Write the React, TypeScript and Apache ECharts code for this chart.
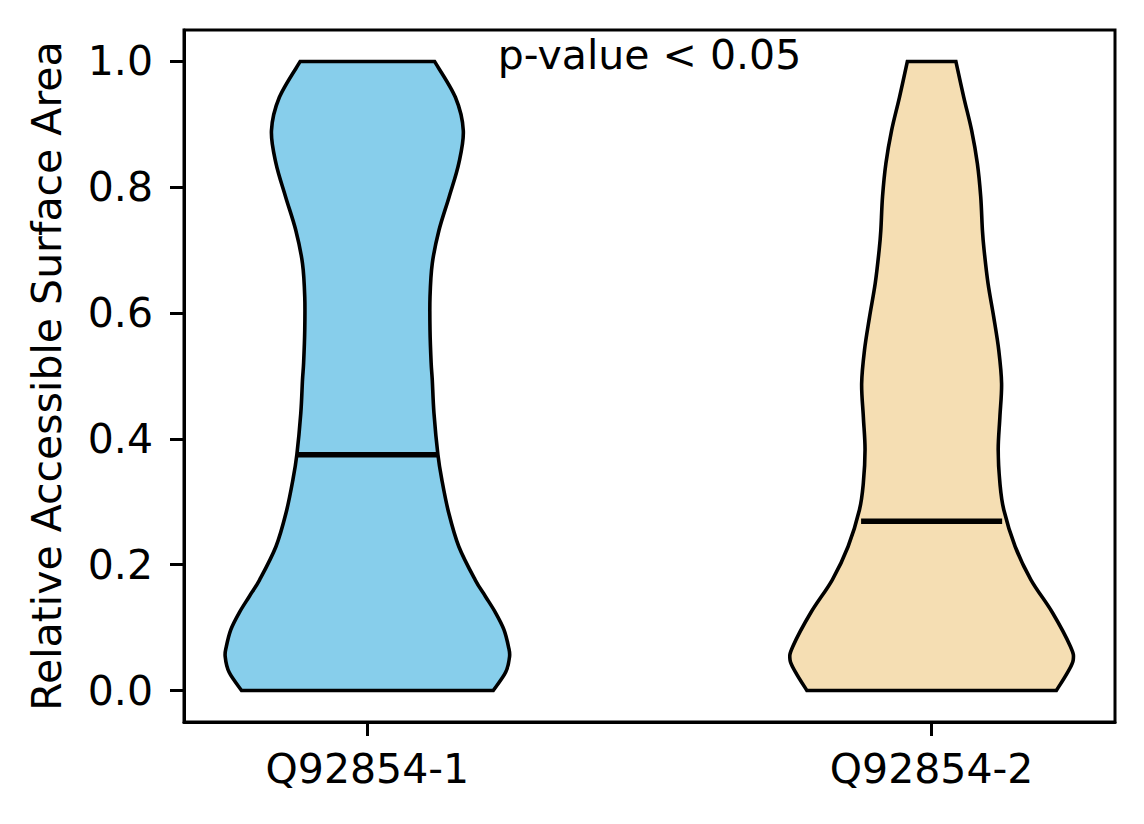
import { useEffect, useRef } from "react";
import * as echarts from "echarts";

// violin categories and positions on the x axis
const categories = ["Q92854-1", "Q92854-2"];
const positions = [1, 2];
const fillColors = ["#87CEEB", "#F5DEB3"];
const medians = [0.375, 0.269];

// density outline (y level -> half width in x units)
const levelsA = [0, 0.029, 0.054, 0.07, 0.097, 0.124, 0.15, 0.176, 0.229, 0.283, 0.335, 0.375, 0.441, 0.494, 0.521, 0.573, 0.626, 0.679, 0.732, 0.785, 0.838, 0.89, 0.943, 1.0];
const halfWidthsA = [0.223, 0.245, 0.252, 0.25, 0.242, 0.227, 0.209, 0.191, 0.162, 0.144, 0.132, 0.125, 0.118, 0.115, 0.113, 0.111, 0.111, 0.115, 0.127, 0.145, 0.162, 0.17, 0.156, 0.119];
const levelsB = [0, 0.029, 0.049, 0.07, 0.124, 0.176, 0.229, 0.287, 0.33, 0.383, 0.435, 0.488, 0.541, 0.594, 0.647, 0.7, 0.732, 0.785, 0.838, 0.89, 0.943, 1.0];
const halfWidthsB = [0.221, 0.241, 0.251, 0.246, 0.214, 0.176, 0.148, 0.128, 0.121, 0.118, 0.121, 0.124, 0.119, 0.11, 0.1, 0.093, 0.09, 0.087, 0.081, 0.071, 0.057, 0.043];

const yTicks = [0, 0.2, 0.4, 0.6, 0.8, 1.0];
const annotation = "p-value < 0.05";

const FONT = "DejaVu Sans";
const FS = 41;

// smooth sides (catmull-rom), straight top and bottom edges
const segment = (ctx, p, from, to) => {
  for (let i = from; i < to; i++) {
    const p0 = p[Math.max(i - 1, from)];
    const p1 = p[i];
    const p2 = p[i + 1];
    const p3 = p[Math.min(i + 2, to)];
    ctx.bezierCurveTo(
      p1[0] + (p2[0] - p0[0]) / 6,
      p1[1] + (p2[1] - p0[1]) / 6,
      p2[0] - (p3[0] - p1[0]) / 6,
      p2[1] - (p3[1] - p1[1]) / 6,
      p2[0],
      p2[1]
    );
  }
};

echarts.graphic.registerShape(
  "violin",
  echarts.graphic.extendShape({
    shape: { right: [], left: [] },
    buildPath: (ctx, shape) => {
      const r = shape.right;
      const l = shape.left;
      if (!r.length) return;
      ctx.moveTo(r[0][0], r[0][1]);
      segment(ctx, r, 0, r.length - 1);
      ctx.lineTo(l[0][0], l[0][1]);
      segment(ctx, l, 0, l.length - 1);
      ctx.closePath();
    },
  })
);

const App = () => {
  const chartRef = useRef(null);

  useEffect(() => {
    const chart = echarts.init(chartRef.current, null, { renderer: "svg" });
    const levels = [levelsA, levelsB];
    const widths = [halfWidthsA, halfWidthsB];

    const option: any = {
      animation: false,
      grid: {
        left: 184,
        right: 29,
        top: 30,
        bottom: 102,
        show: true,
        borderColor: "#000",
        borderWidth: 3,
        containLabel: false,
        outerBoundsMode: "none",
      },
      xAxis: {
        type: "value",
        min: 0.675,
        max: 2.325,
        splitLine: { show: false },
        axisLine: { show: true, onZero: false, lineStyle: { color: "#000", width: 3 } },
        axisTick: {
          show: true,
          customValues: positions,
          length: 14,
          lineStyle: { color: "#000", width: 3 },
        },
        axisLabel: {
          customValues: positions,
          formatter: (v) => categories[positions.indexOf(v)] ?? "",
          margin: 26,
          fontSize: FS,
          fontFamily: FONT,
          color: "#000",
        },
      },
      yAxis: {
        type: "value",
        min: -0.05,
        max: 1.05,
        name: "Relative Accessible Surface Area",
        nameLocation: "middle",
        nameRotate: 90,
        nameGap: 117,
        nameTextStyle: { fontSize: FS, fontFamily: FONT, color: "#000" },
        splitLine: { show: false },
        axisLine: { show: true, onZero: false, lineStyle: { color: "#000", width: 3 } },
        axisTick: {
          show: true,
          customValues: yTicks,
          length: 14,
          lineStyle: { color: "#000", width: 3 },
        },
        axisLabel: {
          customValues: yTicks,
          formatter: (v) => Number(v).toFixed(1),
          margin: 31,
          fontSize: FS,
          fontFamily: FONT,
          color: "#000",
        },
      },
      series: [
        {
          type: "custom",
          data: positions.map((p, i) => [p, i]),
          renderItem: (params, api) => {
            const i = params.dataIndex;
            const pos = api.value(0);
            const lv = levels[i];
            const hw = widths[i];
            const right = [];
            const left = [];
            for (let k = 0; k < lv.length; k++) right.push(api.coord([pos + hw[k], lv[k]]));
            for (let k = lv.length - 1; k >= 0; k--) left.push(api.coord([pos - hw[k], lv[k]]));
            const m1 = api.coord([pos - 0.125, medians[i]]);
            const m2 = api.coord([pos + 0.125, medians[i]]);
            return {
              type: "group",
              children: [
                {
                  type: "violin",
                  shape: { right, left },
                  style: { fill: fillColors[i], stroke: "#000", lineWidth: 3.6, lineJoin: "miter" },
                },
                {
                  type: "line",
                  shape: { x1: m1[0], y1: m1[1], x2: m2[0], y2: m2[1] },
                  style: { stroke: "#000", lineWidth: 5.5 },
                },
              ],
            };
          },
        },
        {
          type: "custom",
          data: [[1.5, 1.011]],
          renderItem: (params, api) => {
            const c = api.coord([api.value(0), api.value(1)]);
            return {
              type: "text",
              x: c[0],
              y: c[1],
              style: {
                text: annotation,
                fontSize: FS,
                fontFamily: FONT,
                fill: "#000",
                align: "center",
                verticalAlign: "middle",
              },
            };
          },
        },
      ],
    };

    chart.setOption(option);
    return () => {
      chart.dispose();
    };
  }, []);

  return (
    <div
      ref={chartRef}
      style={{ position: "fixed", left: 0, top: 0, width: "1144px", height: "824px", background: "#fff" }}
    />
  );
};

export default App;
